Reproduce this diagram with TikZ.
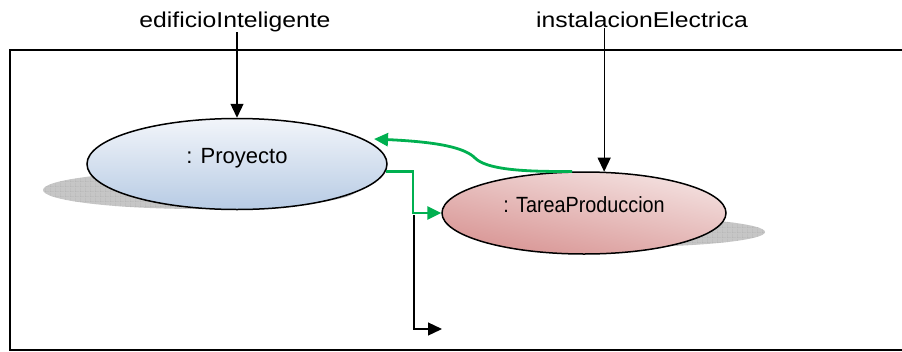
\documentclass[tikz,border=0pt]{standalone}
\usepackage{fontspec}
\setmainfont{Liberation Sans}
\newfontfamily\widesans[FakeStretch=1.15]{Liberation Sans}
\newfontfamily\narrowsans[FakeStretch=0.9]{Liberation Sans}
\usepackage{tikz}
\usetikzlibrary{positioning,arrows.meta,shapes.geometric,patterns}

\definecolor{linkgreen}{HTML}{00B050}
\definecolor{proylight}{HTML}{F2F5FA}
\definecolor{proydark}{HTML}{B7CBE4}
\definecolor{tarealight}{HTML}{F4E2E1}
\definecolor{tareadark}{HTML}{D89493}

% coarse grid for the shadows
\pgfdeclarepatternformonly{shadowgrid}{\pgfpointorigin}{\pgfpoint{4.5pt}{4.5pt}}{\pgfpoint{4.5pt}{4.5pt}}{
  \pgfsetlinewidth{0.5pt}
  \pgfpathmoveto{\pgfpointorigin}\pgfpathlineto{\pgfpoint{4.5pt}{0pt}}
  \pgfpathmoveto{\pgfpointorigin}\pgfpathlineto{\pgfpoint{0pt}{4.5pt}}
  \pgfusepath{stroke}}

\begin{document}
\begin{tikzpicture}[x=1pt,y=-1pt,>={Triangle[length=14pt,width=13pt]},line width=1.3pt]

\tikzstyle{obj}=[ellipse,draw,line width=1.5pt,inner sep=0pt]
\tikzstyle{shadow}=[pattern=shadowgrid,pattern color=gray!85]
\tikzstyle{link}=[->,linkgreen,line width=2.8pt]
\tikzstyle{refname}=[inner sep=0pt,anchor=base,font=\widesans\fontsize{21.5}{24}\selectfont]

\useasboundingbox (0,0) rectangle (902,351);

% frame
\draw[line width=1.8pt] (902,50) -- (10,50) -- (10,350) -- (902,350);

% shadows
\fill[gray!45] (200,190) ellipse [x radius=157,y radius=19];
\fill[shadow] (200,190) ellipse [x radius=157,y radius=19];
\fill[gray!45] (620,232) ellipse [x radius=145,y radius=15];
\fill[shadow] (620,232) ellipse [x radius=145,y radius=15];

% objects
\node[obj,minimum width=300pt,minimum height=91pt,top color=proylight,bottom color=proydark] (proy) at (237,164) {};
\node[obj,minimum width=284pt,minimum height=82pt,top color=tarealight,bottom color=tareadark,shading angle=-12] (tarea) at (584,213) {};
\node[inner sep=0pt,anchor=base,font=\fontsize{22}{26}\selectfont] (proytxt) at (237,163) {: Proyecto};
\node[inner sep=0pt,anchor=base,font=\narrowsans\fontsize{22}{26}\selectfont] (tareatxt) at (584,212) {: TareaProduccion};

% references
\node[refname] (edif) at (235,27) {edificioInteligente};
\node[refname] (inst) at (642,27) {instalacionElectrica};

\draw[->] (edif.south -| proy.north) -- (proy.north);
\draw[->] (inst.south -| tarea.64) -- (tarea.64);

% links
\coordinate (backtip) at (374,139);
\coordinate (elbow) at (413,192);
\draw[link] (tarea.106) .. controls (520,172) and (486,169) .. (475,158)
    .. controls (465,148) and (440,142) .. (backtip);
\draw[link] (proy.-3.5) -| (elbow) |- (tarea.west);

\coordinate (dstart) at (414,215);
\coordinate (dend) at (442,329);
\draw[->] (dstart) |- (dend);

\end{tikzpicture}
\end{document}
